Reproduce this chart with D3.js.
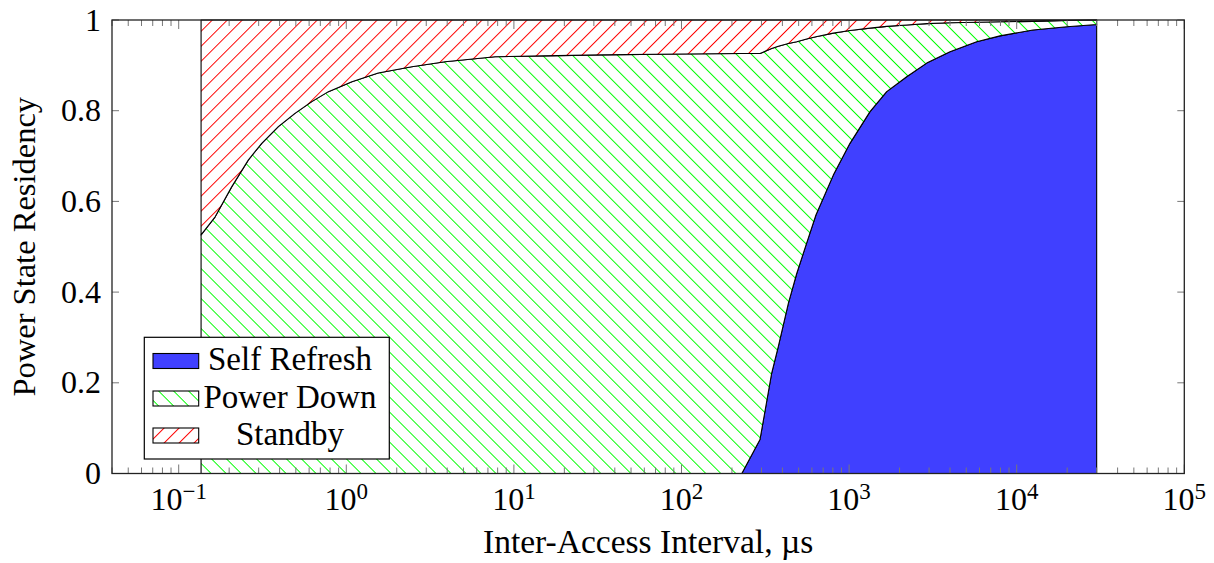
<!DOCTYPE html>
<html>
<head>
<meta charset="utf-8">
<script src="https://cdn.jsdelivr.net/npm/d3@7"></script>
<style>
  body { margin: 0; background: #fff; }
  svg { display: block; }
</style>
</head>
<body>
<svg id="chart" width="1214" height="563"></svg>
<script>
// Inter-access interval in microseconds
const intervals = [0.136, 0.165, 0.207, 0.26, 0.313, 0.393, 0.494, 0.622, 0.782, 1.08, 1.55, 2.46, 3.88, 7.71,
  15, 33, 100, 229, 294, 345, 378, 434, 487, 558, 634, 805, 1012, 1333, 1676, 2206, 2904, 4000, 5770, 7950,
  12500, 19900, 30000];
// Fraction of time spent in each power state
const selfRefresh = [0, 0, 0, 0, 0, 0, 0, 0, 0, 0, 0, 0, 0, 0,
  0, 0, 0, 0, 0.075, 0.221, 0.280, 0.375, 0.441, 0.508, 0.570, 0.658, 0.728, 0.798, 0.842, 0.875, 0.905, 0.930, 0.952, 0.965,
  0.978, 0.985, 0.990];
const powerDown = [0.526, 0.566, 0.632, 0.691, 0.728, 0.765, 0.794, 0.820, 0.842, 0.864, 0.883, 0.897, 0.908, 0.919,
  0.921, 0.923, 0.925, 0.926, 0.851, 0.716, 0.662, 0.573, 0.511, 0.450, 0.393, 0.313, 0.249, 0.184, 0.144, 0.114, 0.087, 0.064, 0.043, 0.031,
  0.019, 0.014, 0.010];
const standby = [0.474, 0.434, 0.368, 0.309, 0.272, 0.235, 0.206, 0.180, 0.158, 0.136, 0.117, 0.103, 0.092, 0.081,
  0.079, 0.077, 0.075, 0.074, 0.074, 0.063, 0.058, 0.052, 0.048, 0.042, 0.037, 0.029, 0.023, 0.018, 0.014, 0.011, 0.008, 0.006, 0.005, 0.004,
  0.003, 0.001, 0.000];

const seriesNames = ["Self Refresh", "Power Down", "Standby"];
const xTickExponents = [-1, 0, 1, 2, 3, 4, 5];
const yTickValues = [0, 0.2, 0.4, 0.6, 0.8, 1];
const yTickLabels = ["0", "0.2", "0.4", "0.6", "0.8", "1"];

const FONT = "'Liberation Serif', 'Noto Serif', 'DejaVu Serif', serif";

const svg = d3.select("#chart").attr("font-family", FONT);
const plot = { left: 112, right: 1184.3, top: 20, bottom: 473.5 };

const x = d3.scaleLog().domain([0.04, 1e5]).range([plot.left, plot.right]);
const y = d3.scaleLinear().domain([0, 1]).range([plot.bottom, plot.top]);

// Hatch patterns
const defs = svg.append("defs");
function hatch(id, color, angle) {
  const s = 10.6;
  const p = defs.append("pattern")
    .attr("id", id)
    .attr("patternUnits", "userSpaceOnUse")
    .attr("width", s).attr("height", s)
    .attr("patternTransform", `rotate(${angle})`);
  p.append("rect").attr("width", s).attr("height", s).attr("fill", "#fff");
  p.append("line")
    .attr("x1", -1).attr("y1", s / 2).attr("x2", s + 1).attr("y2", s / 2)
    .attr("stroke", color).attr("stroke-width", 1);
}
hatch("hatch-pd", "#00ff00", 45);
hatch("hatch-sb", "#ff0000", -45);

const fills = ["#4040ff", "url(#hatch-pd)", "url(#hatch-sb)"];

// Stacked areas
const rows = intervals.map((t, i) => ({ t, sr: selfRefresh[i], pd: powerDown[i], sb: standby[i] }));
const stacked = d3.stack().keys(["sr", "pd", "sb"])(rows);

const area = d3.area()
  .x(d => x(d.data.t))
  .y0(d => y(d[0]))
  .y1(d => y(Math.min(1, d[1])));

svg.append("g").selectAll("path")
  .data(stacked)
  .join("path")
  .attr("d", d => area(d) + "")
  .attr("fill", (d, i) => fills[i])
  .attr("stroke", "#000")
  .attr("stroke-width", 1.1)
  .attr("stroke-linejoin", "round");

// Axis ticks (inward, on all four sides)
const tickColor = "#777";
const axisG = svg.append("g");
const minorX = [];
for (let e = -2; e <= 4; e++) {
  for (let m = 2; m <= 9; m++) {
    const v = m * Math.pow(10, e);
    if (v >= 0.04 && v <= 1e5) minorX.push(v);
  }
}
minorX.forEach(v => {
  const px = x(v);
  axisG.append("line").attr("x1", px).attr("x2", px).attr("y1", plot.bottom).attr("y2", plot.bottom - 6)
    .attr("stroke", tickColor).attr("stroke-width", 1);
  axisG.append("line").attr("x1", px).attr("x2", px).attr("y1", plot.top).attr("y2", plot.top + 6)
    .attr("stroke", tickColor).attr("stroke-width", 1);
});
xTickExponents.forEach(e => {
  const px = x(Math.pow(10, e));
  axisG.append("line").attr("x1", px).attr("x2", px).attr("y1", plot.bottom).attr("y2", plot.bottom - 9)
    .attr("stroke", tickColor).attr("stroke-width", 1);
  axisG.append("line").attr("x1", px).attr("x2", px).attr("y1", plot.top).attr("y2", plot.top + 9)
    .attr("stroke", tickColor).attr("stroke-width", 1);
  const t = axisG.append("text")
    .attr("x", px).attr("y", 510)
    .attr("text-anchor", "middle")
    .attr("font-size", 32);
  t.append("tspan").text("10");
  t.append("tspan").attr("dy", -11).attr("font-size", 23)
    .text(e < 0 ? "\u2212" + Math.abs(e) : String(e));
});
yTickValues.forEach((v, i) => {
  const py = y(v);
  axisG.append("line").attr("x1", plot.left).attr("x2", plot.left + 7).attr("y1", py).attr("y2", py)
    .attr("stroke", tickColor).attr("stroke-width", 1);
  axisG.append("line").attr("x1", plot.right).attr("x2", plot.right - 7).attr("y1", py).attr("y2", py)
    .attr("stroke", tickColor).attr("stroke-width", 1);
  axisG.append("text")
    .attr("x", 101).attr("y", py + 10.5)
    .attr("text-anchor", "end")
    .attr("font-size", 32)
    .text(yTickLabels[i]);
});

// Frame
svg.append("rect")
  .attr("x", plot.left).attr("y", plot.top)
  .attr("width", plot.right - plot.left).attr("height", plot.bottom - plot.top)
  .attr("fill", "none").attr("stroke", "#222").attr("stroke-width", 1.3);

// Axis titles
svg.append("text")
  .attr("x", (plot.left + plot.right) / 2).attr("y", 553)
  .attr("text-anchor", "middle")
  .attr("font-size", 33.5)
  .text("Inter-Access Interval, \u00b5s");
svg.append("text")
  .attr("transform", `translate(35,${(plot.top + plot.bottom) / 2}) rotate(-90)`)
  .attr("text-anchor", "middle")
  .attr("font-size", 32.5)
  .text("Power State Residency");

// Legend
const legend = svg.append("g");
legend.append("rect")
  .attr("x", 144.3).attr("y", 337.3).attr("width", 245).attr("height", 121.7)
  .attr("fill", "#fff").attr("stroke", "#000").attr("stroke-width", 1.2);
const rowCenters = [361, 398.5, 435.5];
seriesNames.forEach((name, i) => {
  legend.append("rect")
    .attr("x", 153).attr("y", rowCenters[i] - 7.5).attr("width", 45.7).attr("height", 15)
    .attr("fill", fills[i]).attr("stroke", "#000").attr("stroke-width", 1.1);
  legend.append("text")
    .attr("x", 290).attr("y", rowCenters[i] + 9)
    .attr("text-anchor", "middle")
    .attr("font-size", 33)
    .text(name);
});
</script>
</body>
</html>
